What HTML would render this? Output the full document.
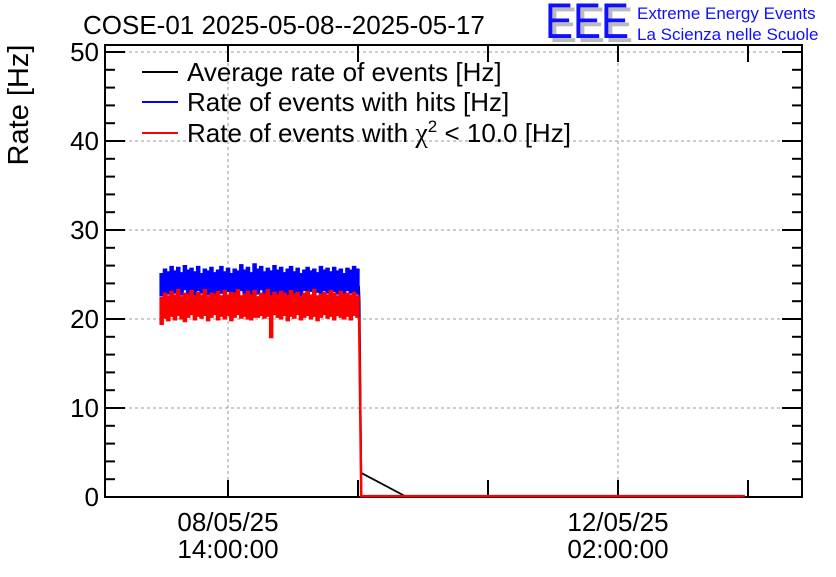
<!DOCTYPE html>
<html><head><meta charset="utf-8"><style>
body{margin:0;background:#fff}
svg text{font-family:"Liberation Sans",sans-serif}
</style></head><body>
<svg id="chart" width="836" height="572" viewBox="0 0 836 572" xmlns="http://www.w3.org/2000/svg">
<text x="83" y="34" font-size="26">COSE-01 2025-05-08--2025-05-17</text>
<g>
<text x="549" y="42" font-size="50" fill="#bbb" textLength="84" lengthAdjust="spacingAndGlyphs">EEE</text>
<text x="545" y="38" font-size="50" fill="#1010ff" textLength="84" lengthAdjust="spacingAndGlyphs">EEE</text>
<text x="637" y="19" font-size="17" fill="#1010ff">Extreme Energy Events</text>
<text x="637" y="40" font-size="17" fill="#1010ff">La Scienza nelle Scuole</text>
</g>
<text transform="translate(28,105) rotate(-90)" text-anchor="middle" font-size="29">Rate [Hz]</text>
<g id="grid"></g>
<rect x="105" y="45" width="697" height="452" fill="none" stroke="#000" stroke-width="2"/>
<g id="axes"></g>
<g id="series"></g>
<g>
<g><line x1="142" y1="72" x2="178" y2="72" stroke="#000" stroke-width="2"/><text x="187" y="81" font-size="26">Average rate of events [Hz]</text></g>
<g><line x1="142" y1="102" x2="178" y2="102" stroke="#00f" stroke-width="2"/><text x="187" y="111" font-size="26">Rate of events with hits [Hz]</text></g>
<g><line x1="142" y1="133" x2="178" y2="133" stroke="#f00" stroke-width="2"/><text x="187" y="142" font-size="26">Rate of events with <tspan font-family="Liberation Serif" font-size="28">χ</tspan><tspan dy="-10" font-size="17">2</tspan><tspan dy="10"> &lt; 10.0 [Hz]</tspan></text></g>
</g>
</svg>
<script>
const yTicks=[0,10,20,30,40,50];
const xTickHours=[14,86];
const xTickLabels=[["08/05/25","14:00:00"],["12/05/25","02:00:00"]];
const runStart=1.45, runEnd=38.2;
const blueHigh=[25.1,25.6,25.3,25.9,25.4,25.8,25.2,26.0,25.5,25.7,25.3,25.9,25.1,25.6,25.4,25.8,25.2,25.5,25.9,25.3,25.7,25.1,25.6,25.4,26.1,25.5,25.8,25.2,26.2,25.6,25.9,25.3,25.7,25.4,26.0,25.5,25.8,25.2,25.6,25.9,25.3,25.7,25.1,25.5,25.8,25.4,25.6,25.2,25.9,25.5,25.7,25.3,25.8,25.4,25.6,25.1,25.7,25.5,25.9,25.6];
const blueLow=[22.6,23.0,22.8,23.2,22.9,23.1,22.7,23.3,22.8,23.0,22.6,23.2,22.9,23.1,22.7,23.0,22.8,23.2,22.9,22.6,23.1,22.8,23.0,22.7,23.2,22.9,23.1,22.6,23.0,22.8,23.3,22.9,23.1,22.7,23.0,22.8,23.2,22.9,22.7,23.1,22.8,23.0,22.6,23.2,22.9,23.1,22.7,23.0,22.8,23.2,22.9,22.6,23.1,22.8,23.0,22.7,23.2,22.9,23.1,22.8];
const redHigh=[22.4,22.9,22.6,23.1,22.7,23.3,22.5,22.9,22.8,23.2,22.6,23.0,22.7,23.3,22.5,22.9,22.8,23.1,22.6,23.2,22.7,23.0,22.9,23.3,22.6,22.8,23.1,22.7,23.2,22.5,22.9,22.8,23.3,22.6,23.0,22.7,23.1,22.9,22.6,23.2,22.8,23.0,22.5,22.9,23.1,22.7,23.3,22.6,22.8,23.0,22.7,23.2,22.9,22.6,23.1,22.8,22.9,22.7,23.0,22.6];
const redLow=[19.4,20.1,19.8,20.3,19.9,20.4,20.0,19.7,20.2,20.5,19.9,20.3,20.1,20.4,19.8,20.2,20.5,19.9,20.3,20.0,20.4,19.8,20.2,20.5,20.1,20.3,20.0,19.9,20.2,20.2,20.4,20.1,20.3,17.9,20.5,20.2,20.0,20.4,19.8,20.3,20.1,20.5,19.9,20.2,20.4,20.0,20.3,19.8,20.2,20.5,20.1,20.3,19.9,20.4,20.2,20.0,20.3,19.9,20.4,20.2];
const blackValues=[23.6,23.8,23.5,23.9,23.7,23.6,23.8,23.5,23.7,23.9,23.6,23.8,23.5,23.7,23.6,23.8,23.9,23.5,23.7,23.6];
const tailHours=[38.3,38.6,46.7,109.4];
const blackTail=[22.0,2.7,0.1,0.1];
const redTail=[0.1,0.1,0.1,0.1];

const NS="http://www.w3.org/2000/svg";
const X=h=>228+(h-14)*(390/72);
const Y=v=>497-v*8.9;
function mk(tag,attrs,parent){const e=document.createElementNS(NS,tag);for(const k in attrs)e.setAttribute(k,attrs[k]);parent.appendChild(e);return e;}
const grid=document.getElementById('grid'),axes=document.getElementById('axes'),series=document.getElementById('series');

yTicks.forEach(v=>{
  if(v>0){const g=mk('line',{x1:105,x2:802,y1:Y(v),y2:Y(v),stroke:'#999','stroke-dasharray':'3,3','stroke-width':1},grid);
  
  }
  const t=mk('text',{x:99,y:Y(v)+9,'text-anchor':'end','font-size':26},axes);t.textContent=v;
  
  
});
for(let v=0;v<=50;v+=2){
  const big=v%10===0,len=big?20:10;
  mk('line',{x1:105,x2:105+len,y1:Y(v),y2:Y(v),stroke:'#000','stroke-width':2},axes);
  mk('line',{x1:802,x2:802-len,y1:Y(v),y2:Y(v),stroke:'#000','stroke-width':2},axes);
}
xTickHours.forEach((h,i)=>{
  const g=mk('line',{x1:X(h),x2:X(h),y1:45,y2:497,stroke:'#999','stroke-dasharray':'3,3','stroke-width':1},grid);
  
  
  xTickLabels[i].forEach((s,j)=>{const t=mk('text',{x:X(h),y:531+j*27,'text-anchor':'middle','font-size':26},axes);t.textContent=s;
  
  });
});
const step=(X(86)-X(14))/3;
for(let k=-1;k<=4;k++){
  const x=X(14)+k*step; if(x<105||x>802)continue;
  mk('line',{x1:x,x2:x,y1:497,y2:480,stroke:'#000','stroke-width':2},axes);
  mk('line',{x1:x,x2:x,y1:45,y2:62,stroke:'#000','stroke-width':2},axes);
}
function bandPts(hi,lo){
  const n=hi.length,w=(runEnd-runStart)/n,top=[],bot=[];
  for(let i=0;i<n;i++){
    const a=X(runStart+i*w).toFixed(2),b=X(runStart+(i+1)*w).toFixed(2);
    top.push(a+','+Y(hi[i]).toFixed(2),b+','+Y(hi[i]).toFixed(2));
    bot.unshift(b+','+Y(lo[i]).toFixed(2),a+','+Y(lo[i]).toFixed(2));
  }
  return top.concat(bot).join(' ');
}
function linePts(vals,tH,tV){
  const n=vals.length,out=[];
  vals.forEach((v,i)=>out.push(X(runStart+(runEnd-runStart)*i/(n-1)).toFixed(2)+','+Y(v).toFixed(2)));
  tH.forEach((h,i)=>out.push(X(h).toFixed(2)+','+Y(tV[i]).toFixed(2)));
  return out.join(' ');
}
const bl=mk('polyline',{points:linePts(blackValues,tailHours,blackTail),fill:'none',stroke:'#000','stroke-width':1.8},series);


const bb=mk('polygon',{points:bandPts(blueHigh,blueLow),fill:'#00f',stroke:'#00f','stroke-width':1.2},series);


const bd=mk('polyline',{points:X(runEnd)+','+Y(blueLow[blueLow.length-1])+' '+X(tailHours[1])+','+Y(0.1),fill:'none',stroke:'#00f','stroke-width':2},series);


const rb=mk('polygon',{points:bandPts(redHigh,redLow),fill:'#f00',stroke:'#f00','stroke-width':1.2},series);


const rt=mk('polyline',{points:X(runEnd)+','+Y(redLow[redLow.length-1])+' '+linePts([],tailHours.slice(1),redTail.slice(1)),fill:'none',stroke:'#f00','stroke-width':2.5},series);


</script>
</body></html>
